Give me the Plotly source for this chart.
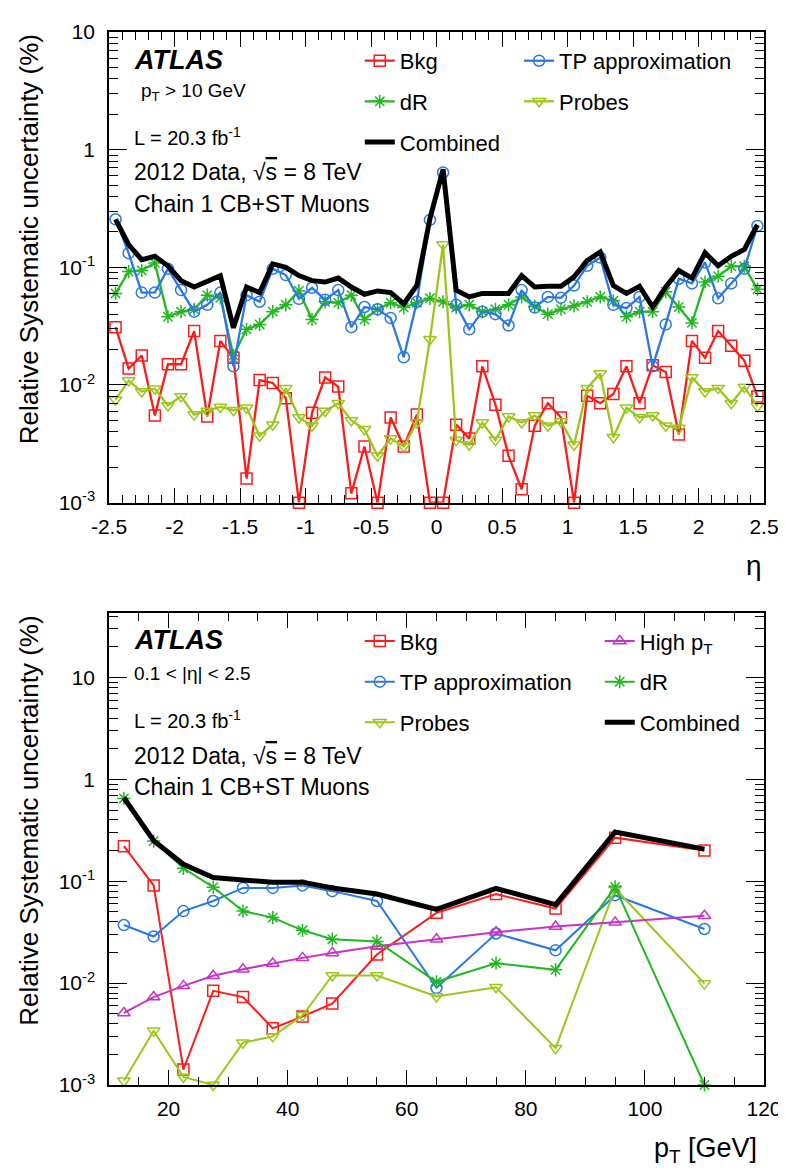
import plotly.graph_objects as go

FONT = "Liberation Sans, Arial, Helvetica, sans-serif"

# ---- top panel: uncertainty vs eta (pT > 10 GeV) ----
eta = [-2.45, -2.35, -2.25, -2.15, -2.05, -1.95, -1.85, -1.75, -1.65, -1.55,
       -1.45, -1.35, -1.25, -1.15, -1.05, -0.95, -0.85, -0.75, -0.65, -0.55,
       -0.45, -0.35, -0.25, -0.15, -0.05, 0.05, 0.15, 0.25, 0.35, 0.45,
       0.55, 0.65, 0.75, 0.85, 0.95, 1.05, 1.15, 1.25, 1.35, 1.45,
       1.55, 1.65, 1.75, 1.85, 1.95, 2.05, 2.15, 2.25, 2.35, 2.45]

eta_bkg = [0.031, 0.0138, 0.0178, 0.0055, 0.015, 0.015, 0.0287, 0.0054, 0.0237, 0.017,
           0.0016, 0.011, 0.0104, 0.0077, 0.0010, 0.0058, 0.0116, 0.0097, 0.0012, 0.0030,
           0.0010, 0.0053, 0.0030, 0.0056, 0.0010, 0.0010, 0.0046, 0.0035, 0.0144, 0.0068,
           0.0025, 0.0013, 0.0045, 0.0070, 0.0053, 0.0010, 0.0081, 0.0070, 0.0084, 0.0144,
           0.0070, 0.0147, 0.0129, 0.0038, 0.0237, 0.017, 0.0287, 0.0215, 0.0161, 0.0080]

eta_tp = [0.256, 0.132, 0.061, 0.061, 0.097, 0.064, 0.042, 0.048, 0.061, 0.0144,
          0.058, 0.051, 0.097, 0.086, 0.054, 0.067, 0.053, 0.064, 0.031, 0.046,
          0.044, 0.037, 0.0172, 0.051, 0.253, 0.64, 0.048, 0.0297, 0.042, 0.040,
          0.032, 0.064, 0.0455, 0.056, 0.055, 0.070, 0.103, 0.121, 0.048, 0.045,
          0.056, 0.0144, 0.0327, 0.080, 0.073, 0.110, 0.0545, 0.073, 0.097, 0.225]

eta_dr = [0.060, 0.092, 0.094, 0.109, 0.038, 0.042, 0.044, 0.058, 0.055, 0.0178,
          0.0297, 0.0327, 0.042, 0.048, 0.063, 0.036, 0.051, 0.050, 0.058, 0.036,
          0.044, 0.050, 0.0455, 0.050, 0.0545, 0.051, 0.0455, 0.048, 0.042, 0.044,
          0.048, 0.056, 0.0465, 0.040, 0.044, 0.047, 0.051, 0.056, 0.052, 0.038,
          0.042, 0.042, 0.062, 0.046, 0.0337, 0.075, 0.084, 0.102, 0.102, 0.065]

eta_probes = [0.0075, 0.0109, 0.0088, 0.0093, 0.0067, 0.0080, 0.0056, 0.0060, 0.0065, 0.0061,
              0.0064, 0.0037, 0.0046, 0.0094, 0.0053, 0.0045, 0.0060, 0.0070, 0.0050, 0.0042,
              0.0025, 0.0035, 0.0030, 0.0048, 0.0245, 0.156, 0.0034, 0.0031, 0.0048, 0.0034,
              0.0054, 0.0048, 0.0055, 0.0045, 0.0049, 0.0031, 0.0094, 0.0125, 0.0036, 0.0064,
              0.0053, 0.0055, 0.0045, 0.0043, 0.0116, 0.0088, 0.0094, 0.0070, 0.0096, 0.0066]

eta_comb = [0.256, 0.156, 0.116, 0.124, 0.103, 0.077, 0.068, 0.076, 0.085, 0.0306,
            0.068, 0.061, 0.107, 0.100, 0.085, 0.077, 0.075, 0.081, 0.068, 0.059,
            0.063, 0.061, 0.049, 0.070, 0.26, 0.68, 0.064, 0.056, 0.060, 0.060,
            0.060, 0.085, 0.068, 0.069, 0.069, 0.083, 0.114, 0.135, 0.070, 0.060,
            0.069, 0.046, 0.068, 0.094, 0.081, 0.133, 0.103, 0.124, 0.142, 0.23]

# ---- bottom panel: uncertainty vs pT (0.1 < |eta| < 2.5) ----
pt = [12.5, 17.5, 22.5, 27.5, 32.5, 37.5, 42.5, 47.5, 55, 65, 75, 85, 95, 110]
pt_bkg = [0.221, 0.091, 0.00142, 0.0084, 0.0073, 0.0036, 0.0047, 0.0063, 0.0191, 0.049,
          0.075, 0.054, 0.268, 0.20]
pt_tp = [0.0372, 0.0287, 0.051, 0.064, 0.086, 0.086, 0.091, 0.080, 0.064, 0.009,
         0.0307, 0.021, 0.073, 0.034]
pt_highpt = [0.0051, 0.0073, 0.0094, 0.0118, 0.0137, 0.0156, 0.0177, 0.0198, 0.023, 0.027,
             0.0316, 0.036, 0.0395, 0.0458]
pt_dr = [0.65, 0.248, 0.134, 0.0875, 0.051, 0.044, 0.033, 0.027, 0.0257, 0.0103,
         0.0157, 0.0135, 0.088, 0.001]
pt_probes = [0.0011, 0.0034, 0.0012, 0.0010, 0.0026, 0.0030, 0.0048, 0.0119, 0.0119, 0.0074,
             0.0091, 0.0023, 0.085, 0.0099]
pt_comb = [0.66, 0.25, 0.147, 0.109, 0.103, 0.098, 0.098, 0.086, 0.075, 0.053,
           0.085, 0.059, 0.305, 0.207]

RED = "#ff1a1a"
BLUE = "#2a78e4"
GREEN = "#22b822"
YGREEN = "#9cc61c"
MAGENTA = "#c633c6"

# page geometry (pixels)
W, H = 786, 1171
ML, MR, MT, MB = 101, 19, 12, 94
PW, PH = W - ML - MR, H - MT - MB


def px(x, y):
    # pixel position -> paper coordinates
    return (x - ML) / PW, 1 - (y - MT) / PH


top_dom = [px(0, 488)[1], 1]
bot_dom = [0, px(0, 600)[1]]

fig = go.Figure()


def add_series(x, y, name, color, symbol, xa, ya, legend, group, width=2.3, size=11):
    fig.add_trace(go.Scatter(
        x=x, y=y, name=name, xaxis=xa, yaxis=ya, legend=legend, legendgroup=group,
        mode="lines+markers" if symbol else "lines",
        line=dict(color=color, width=width),
        marker=dict(symbol=symbol, size=size, color=color, line=dict(color=color, width=1.5))
        if symbol else None,
        cliponaxis=False,
    ))


# top panel
add_series(eta, eta_bkg, "Bkg", RED, "square-open", "x", "y", "legend", "a1")
add_series(eta, eta_dr, "dR", GREEN, "asterisk-open", "x", "y", "legend", "a2")
add_series(eta, eta_tp, "TP approximation", BLUE, "circle-open", "x", "y", "legend2", "a3")
add_series(eta, eta_probes, "Probes", YGREEN, "triangle-down-open", "x", "y", "legend2", "a4")
add_series(eta, eta_comb, "Combined", "black", None, "x", "y", "legend", "a5", width=5)

# bottom panel
add_series(pt, pt_bkg, "Bkg", RED, "square-open", "x2", "y2", "legend3", "b1", width=2)
add_series(pt, pt_tp, "TP approximation", BLUE, "circle-open", "x2", "y2", "legend3", "b2", width=2)
add_series(pt, pt_probes, "Probes", YGREEN, "triangle-down-open", "x2", "y2", "legend3", "b3", width=2)
add_series(pt, pt_highpt, "High p<sub>T</sub>", MAGENTA, "triangle-up-open", "x2", "y2", "legend4", "b4", width=2)
add_series(pt, pt_dr, "dR", GREEN, "asterisk-open", "x2", "y2", "legend4", "b5", width=2)
add_series(pt, pt_comb, "Combined", "black", None, "x2", "y2", "legend4", "b6", width=5)

minor_log = [k * 10.0 ** e for e in range(-3, 2) for k in range(2, 10)]
tick_font = dict(family=FONT, size=21, color="black")
axis_common = dict(
    showline=True, linecolor="black", linewidth=1.5, mirror="ticks",
    ticks="inside", tickcolor="black", tickwidth=1.2, showgrid=False,
    zeroline=False, tickfont=tick_font,
)

fig.update_layout(
    width=W, height=H,
    margin=dict(l=ML, r=MR, t=MT, b=MB),
    paper_bgcolor="white", plot_bgcolor="white",
    font=dict(family=FONT, color="black"),
    xaxis=dict(
        domain=[0, 1], anchor="y", range=[-2.5, 2.5],
        tickvals=[-2.5, -2, -1.5, -1, -0.5, 0, 0.5, 1, 1.5, 2, 2.5],
        ticktext=["-2.5", "-2", "-1.5", "-1", "-0.5", "0", "0.5", "1", "1.5", "2", "2.5"],
        ticklen=15, minor=dict(ticks="inside", ticklen=8, dtick=0.1, tick0=-2.5,
                               tickcolor="black", showgrid=False),
        ticklabelstandoff=4, **axis_common,
    ),
    yaxis=dict(
        domain=top_dom, anchor="x", type="log", range=[-3, 1],
        tickvals=[0.001, 0.01, 0.1, 1, 10],
        ticktext=["10<sup>-3</sup>", "10<sup>-2</sup>", "10<sup>-1</sup>", "1", "10"],
        ticklen=18, minor=dict(ticks="inside", ticklen=9, tickvals=minor_log,
                               tickcolor="black", showgrid=False),
        ticklabelstandoff=8, **axis_common,
    ),
    xaxis2=dict(
        domain=[0, 1], anchor="y2", range=[10, 120],
        tickvals=[20, 40, 60, 80, 100, 120],
        ticktext=["20", "40", "60", "80", "100", "120"],
        ticklen=15, minor=dict(ticks="inside", ticklen=8, dtick=5, tick0=10,
                               tickcolor="black", showgrid=False),
        ticklabelstandoff=4, **axis_common,
    ),
    yaxis2=dict(
        domain=bot_dom, anchor="x2", type="log", range=[-3, 1.63],
        tickvals=[0.001, 0.01, 0.1, 1, 10],
        ticktext=["10<sup>-3</sup>", "10<sup>-2</sup>", "10<sup>-1</sup>", "1", "10"],
        ticklen=18, minor=dict(ticks="inside", ticklen=9, tickvals=minor_log,
                               tickcolor="black", showgrid=False),
        ticklabelstandoff=8, **axis_common,
    ),
)

# each entry sits in its own group so tracegroupgap spaces the rows
legend_common = dict(
    bgcolor="rgba(0,0,0,0)", font=dict(family=FONT, size=22, color="black"),
    xanchor="left", yanchor="top", tracegroupgap=9, itemwidth=30,
    orientation="v", traceorder="grouped",
)
lx, ly = px(356, 20)
fig.update_layout(legend=dict(x=lx, y=ly, **legend_common))
lx, ly = px(518, 20)
fig.update_layout(legend2=dict(x=lx, y=ly, **legend_common))
lx, ly = px(356, 607)
fig.update_layout(legend3=dict(x=lx, y=ly, **legend_common))
lx, ly = px(600, 607)
fig.update_layout(legend4=dict(x=lx, y=ly, **legend_common))


def note(x, y, text, size, **kw):
    ax, ay = px(x, y)
    fig.add_annotation(x=ax, y=ay, xref="paper", yref="paper", text=text, showarrow=False,
                       xanchor=kw.pop("xanchor", "left"), yanchor=kw.pop("yanchor", "middle"),
                       font=dict(family=FONT, size=size, color="black"), **kw)


sqrt_s = "\u221a<span style='text-decoration:overline'>s</span>"

# top panel labels
note(124, 40, "<b><i>ATLAS</i></b>", 27)
note(131, 73, "p<sub>T</sub> > 10 GeV", 19)
note(124, 118, "L = 20.3 fb<sup>-1</sup>", 20)
note(124, 154, "2012 Data, " + sqrt_s + " = 8 TeV", 23)
note(124, 186, "Chain 1 CB+ST Muons", 23)
note(767, 552, "\u03b7", 28, xanchor="right")
note(20, 12, "Relative Systematic uncertainty (%)", 26, textangle=-90, xanchor="center",
     yanchor="top")

# bottom panel labels
note(124, 627, "<b><i>ATLAS</i></b>", 27)
note(124, 661, "0.1 < |\u03b7| < 2.5", 19)
note(124, 707, "L = 20.3 fb<sup>-1</sup>", 20)
note(124, 744, "2012 Data, " + sqrt_s + " = 8 TeV", 23)
note(124, 776, "Chain 1 CB+ST Muons", 23)
note(762, 1143, "p<sub>T</sub> [GeV]", 27, xanchor="right")
note(20, 600, "Relative Systematic uncertainty (%)", 26, textangle=-90, xanchor="center",
     yanchor="top")

fig.write_html("out.html")
